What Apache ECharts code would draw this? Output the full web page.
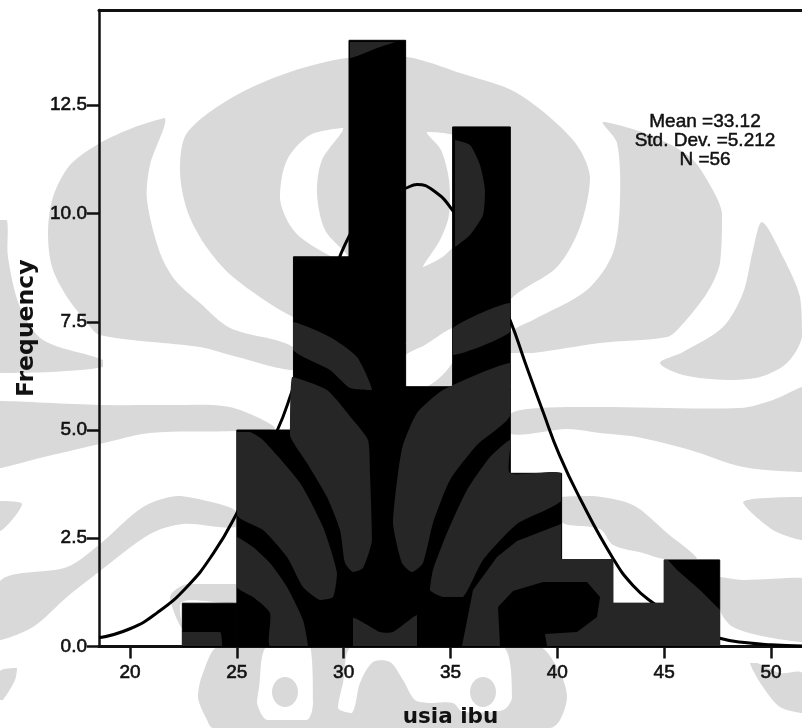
<!DOCTYPE html>
<html>
<head>
<meta charset="utf-8">
<style>html,body{margin:0;padding:0;background:#fff}#c{width:802px;height:728px}</style>
<script src="https://cdn.jsdelivr.net/npm/echarts@6/dist/echarts.min.js"></script>
</head>
<body>
<div id="c"></div>
<script>
// Histogram values
const binEdges = [22.45, 25.0, 27.65, 30.25, 32.9, 35.1, 37.8, 40.2, 42.6, 45.0, 47.6];
const frequencies = [1, 5, 9, 14, 6, 12, 4, 2, 1, 2];
// Fitted curve
const curveX = [18.55, 20, 21.25, 22.65, 23.9, 25, 26.9, 27.6, 28.5, 29.5, 30.5, 31.5, 32.5, 32.87, 33.43, 34.2, 35.1, 36, 37, 37.8, 38.5, 39.33, 40.1, 41.05, 42.6, 43.54, 44.5, 46, 47.6, 49, 50, 51.45];
const curveY = [0.2, 0.41, 0.77, 1.37, 2.15, 3.08, 5.0, 5.92, 7.2, 8.6, 9.7, 10.35, 10.55, 10.58, 10.67, 10.53, 10.07, 9.3, 8.4, 7.52, 6.55, 5.42, 4.42, 3.43, 2.04, 1.41, 1.0, 0.5, 0.19, 0.08, 0.04, 0.01];
const xTicks = [20, 25, 30, 35, 40, 45, 50];
const yTicks = [0, 2.5, 5, 7.5, 10, 12.5];
const statsLines = ['Mean =33.12', 'Std. Dev. =5.212', 'N =56'];
const xTitle = 'usia ibu';
const yTitle = 'Frequency';

// Scanned watermark decoration (page pixels), no chart data
const wmGray = [
 [[347,58],[290,72],[233,97],[187,133],[180,170],[187,210],[205,245],[233,277],[293,317],[350,335],[403,386],[453,386],[510,300],[557,267],[580,227],[590,177],[573,140],[517,93],[460,73],[407,57]],
 [[165,118],[135,127],[100,143],[70,165],[53,197],[48,233],[52,267],[67,297],[85,320],[100,335],[200,347],[230,355],[293,370],[293,347],[230,328],[200,303],[175,280],[160,253],[147,200],[150,165]],
 [[0,220],[7,220],[8,257],[20,307],[43,340],[103,360],[103,367],[50,372],[0,373]],
 [[0,401],[100,405],[170,405],[230,407],[275,428],[237,431],[150,433],[100,444],[40,458],[0,468]],
 [[0,581],[67,567],[100,544],[143,507],[177,496],[207,501],[236,511],[236,527],[183,524],[150,534],[100,571],[67,597],[33,627],[0,640]],
 [[0,501],[22,504],[0,531]],
 [[0,671],[17,668],[15,680],[3,700],[0,700]],
 [[170,597],[187,584],[236,584],[236,602],[182,602],[182,628]],
 [[220,646],[203,673],[198,697],[207,720],[213,728],[550,728],[560,720],[567,697],[560,673],[537,646]],
 [[603,122],[650,135],[690,157],[710,185],[722,213],[720,263],[707,293],[680,327],[667,337],[600,343],[533,353],[510,353],[510,333],[533,320],[587,290],[613,253],[620,200],[617,143]],
 [[762,222],[783,257],[800,297],[802,337],[787,363],[760,377],[727,380],[683,375],[660,363],[683,352],[723,327],[743,293],[753,250]],
 [[510,414],[540,408],[600,407],[740,408],[773,400],[802,387],[802,472],[743,467],[690,450],[637,437],[600,433],[567,429],[510,434]],
 [[561,497],[593,496],[633,505],[667,533],[697,559],[664,559],[643,553],[613,545],[600,529],[561,522]],
 [[743,502],[802,497],[802,540],[773,530]],
 [[720,577],[743,580],[802,578],[802,642],[767,637],[733,627],[720,610]],
 [[750,663],[757,663],[780,673],[802,673],[802,713],[780,707],[763,687]]
];
const wmWhite = [
 [[343,128],[310,135],[287,160],[280,197],[287,220],[300,237],[333,257],[349,258],[325,230],[317,193],[322,160]],
 [[427,132],[460,140],[460,235],[445,255],[423,267],[440,240],[449,215],[449,180],[441,150]],
 [[453,328],[425,345],[403,358],[403,386],[428,386],[453,361]],
 [[267,646],[259,688],[257,703],[267,720],[307,720],[313,703],[310,646]],
 [[353,646],[343,683],[338,708],[352,713],[360,683],[373,662],[390,662],[403,680],[415,700],[430,703],[453,703],[463,712],[503,710],[512,697],[502,646]]
];
const wmDots = [[285,692],[483,692]];
const wmDark = [
 [[350,42],[395,42],[380,47],[350,58]],
 [[455,140],[470,145],[480,165],[485,190],[483,215],[470,235],[455,247]],
 [[453,328],[510,303],[510,332],[453,355]],
 [[293,322],[330,337],[357,357],[372,390],[350,388],[330,370],[293,350]],
 [[292,377],[327,390],[353,420],[368,440],[370,473],[372,540],[363,568],[353,572],[345,563],[340,530],[327,497],[307,463],[290,435]],
 [[237,432],[250,432],[263,440],[300,483],[323,527],[337,573],[333,597],[320,600],[303,587],[287,557],[263,530],[237,515]],
 [[237,537],[253,547],[270,563],[287,587],[303,620],[308,646],[270,646],[270,613],[253,597],[237,587]],
 [[182,632],[220,632],[222,646],[182,646]],
 [[353,618],[380,632],[393,632],[417,615],[417,646],[353,646]],
 [[403,445],[417,413],[443,390],[510,363],[510,416],[477,445],[450,480],[433,523],[423,563],[412,572],[402,563],[393,523],[398,473]],
 [[510,473],[561,473],[561,501],[517,524],[483,560],[463,597],[443,597],[430,590],[433,570],[447,533],[467,490],[490,457],[510,440]],
 [[561,524],[517,541],[497,557],[473,590],[462,646],[500,646],[498,607],[513,591],[543,582],[587,582],[600,597],[597,617],[577,632],[545,634],[547,646],[720,646],[720,610],[700,590],[677,570],[668,560],[664,560],[664,603],[613,603],[613,559],[561,559]]
];

const bbox = pts => [[Math.min(...pts.map(p => p[0])), Math.min(...pts.map(p => p[1]))],
                     [Math.max(...pts.map(p => p[0])), Math.max(...pts.map(p => p[1]))]];
const poly = (pts, fill, z, smooth) => ({type:'polygon', silent:true, z,
  shape: smooth ? {points:pts, smooth, smoothConstraint:bbox(pts)} : {points:pts}, style:{fill}});
const graphicEls = [
  ...wmGray.map(p => poly(p, '#d9d9d9', -30, 0.3)),
  ...wmWhite.map(p => poly(p, '#ffffff', -20, 0.3)),
  ...wmDots.map(d => ({type:'ellipse', silent:true, z:-10, shape:{cx:d[0], cy:d[1], rx:13, ry:15}, style:{fill:'#d9d9d9'}})),
  ...wmDark.map((p, i) => poly(p, '#262626', 20, i === wmDark.length - 1 ? 0 : 0.2)),
  ...statsLines.map((t, i) => ({type:'text', silent:true, z:30, x:705, y:122 + i * 19,
    style:{text:t, fill:'#111', font:'19px "Liberation Sans"', textAlign:'center', textVerticalAlign:'middle', stroke:'#111', lineWidth:0.5}}))
];

const barData = frequencies.map((f, i) => [binEdges[i], binEdges[i + 1], f]);
const curveData = curveX.map((x, i) => [x, curveY[i]]);

const chart = echarts.init(document.getElementById('c'), null, {renderer:'canvas'});
const labelFont = {fontFamily:'Liberation Sans', fontSize:19, color:'#111', textBorderColor:'#111', textBorderWidth:0.6};
chart.setOption({
  animation:false,
  backgroundColor:'#fff',
  tooltip:{show:false},
  legend:{show:false},
  grid:{left:99, right:0, top:10, bottom:81.5, containLabel:false, outerBoundsMode:'none'},
  graphic:{elements:graphicEls},
  xAxis:[{
    type:'value', min:18.55, max:51.45, position:'bottom',
    name:xTitle, nameLocation:'middle', nameGap:60,
    nameTextStyle:{fontFamily:'DejaVu Sans', fontWeight:'bold', fontSize:21.5, color:'#111'},
    axisLine:{onZero:false, lineStyle:{color:'#111', width:3}},
    axisTick:{show:true, length:12, customValues:xTicks, lineStyle:{color:'#111', width:2.5}},
    axisLabel:Object.assign({show:true, margin:17, customValues:xTicks}, labelFont),
    splitLine:{show:false}
  },{
    type:'value', min:18.55, max:51.45, position:'top',
    axisLine:{show:true, onZero:false, lineStyle:{color:'#111', width:3}},
    axisTick:{show:false}, axisLabel:{show:false}, splitLine:{show:false}
  }],
  yAxis:{
    type:'value', min:0, max:14.7,
    name:yTitle, nameLocation:'middle', nameGap:58, nameRotate:90,
    nameTextStyle:{fontFamily:'DejaVu Sans', fontWeight:'bold', fontSize:23.5, color:'#111'},
    axisLine:{show:true, onZero:false, lineStyle:{color:'#111', width:2.5}},
    axisTick:{show:true, length:12, customValues:yTicks, lineStyle:{color:'#111', width:2.5}},
    axisLabel:Object.assign({show:true, margin:12, customValues:yTicks, formatter:v => v.toFixed(1)}, labelFont),
    splitLine:{show:false}
  },
  series:[{
    type:'custom', coordinateSystem:'cartesian2d', xAxisIndex:0, yAxisIndex:0, z:2, silent:true,
    data:barData, encode:{x:[0,1], y:2},
    renderItem:(params, api) => {
      const a = api.coord([api.value(0), api.value(2)]);
      const b = api.coord([api.value(1), 0]);
      return {type:'rect', shape:{x:a[0], y:a[1], width:b[0]-a[0], height:b[1]-a[1]}, style:{fill:'#000', stroke:'#000', lineWidth:1}};
    }
  },{
    type:'line', xAxisIndex:0, yAxisIndex:0, z:3, silent:true,
    data:curveData, smooth:true, showSymbol:false, symbol:'none',
    lineStyle:{color:'#000', width:3}
  }]
});
</script>
</body>
</html>
